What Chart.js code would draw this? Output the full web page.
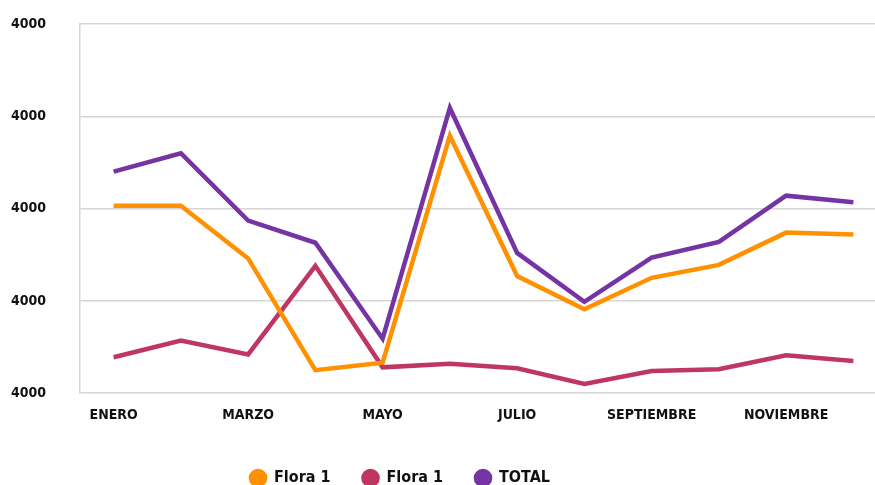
<!DOCTYPE html>
<html>
<head>
<meta charset="utf-8">
<script src="https://cdn.jsdelivr.net/npm/chart.js@4.4.0/dist/chart.umd.min.js"></script>
<style>
  html, body { margin: 0; padding: 0; background: #fff; overflow: hidden; }
  #wrap { width: 887px; height: 496px; }
</style>
</head>
<body>
<div id="wrap"><canvas id="lineChart" width="887" height="496"></canvas></div>
<script>
// Chart data
const months = ['ENERO', 'FEBRERO', 'MARZO', 'ABRIL', 'MAYO', 'JUNIO', 'JULIO', 'AGOSTO', 'SEPTIEMBRE', 'OCTUBRE', 'NOVIEMBRE', 'DICIEMBRE'];
const flora1 = [203, 203, 146, 25, 33, 279, 127, 91, 125, 139, 174, 172];
const flora2 = [39, 57, 42, 138, 28, 32, 27, 10, 24, 26, 41, 35];
const total = [240, 260, 187, 163, 59, 309, 152, 99, 147, 164, 214, 207];
const yTickLabel = '4000';

const FONT = "'Liberation Sans Narrow', 'DejaVu Sans Condensed', sans-serif";

// The legend in the original sits a bit left of centre
const legendShift = {
    id: 'legendShift',
    afterLayout(chart) {
        if (chart.legend) {
            chart.legend.left -= 49;
            chart.legend.right -= 49;
        }
    }
};

document.addEventListener('DOMContentLoaded', function() {
    const ctx = document.getElementById('lineChart');
    new Chart(ctx, {
        type: 'line',
        data: {
            labels: months,
            datasets: [
                { label: 'Flora 1', data: flora1, borderColor: '#ff9100', backgroundColor: '#ff9100' },
                { label: 'Flora 1', data: flora2, borderColor: '#bf3760', backgroundColor: '#bf3760' },
                { label: 'TOTAL', data: total, borderColor: '#7434a3', backgroundColor: '#7434a3' }
            ].map(ds => Object.assign(ds, {
                borderWidth: 4.5,
                pointRadius: 0,
                tension: 0,
                fill: false
            }))
        },
        options: {
            responsive: false,
            animation: false,
            layout: { padding: { top: 24, left: 11, right: 0, bottom: 0 } },
            plugins: {
                legend: {
                    position: 'bottom',
                    labels: {
                        usePointStyle: true,
                        pointStyle: 'circle',
                        boxWidth: 16,
                        boxHeight: 10,
                        padding: 32,
                        color: '#111',
                        font: { family: FONT, size: 16, weight: 'bold' }
                    }
                },
                tooltip: { enabled: false }
            },
            scales: {
                x: {
                    offset: true,
                    grid: { display: false, drawTicks: false },
                    border: { display: false },
                    ticks: {
                        autoSkip: false,
                        maxRotation: 0,
                        padding: 14,
                        color: '#111',
                        font: { family: FONT, size: 14, weight: 'bold' },
                        callback: function(value, index) {
                            return index % 2 === 0 ? this.getLabelForValue(value) : '';
                        }
                    }
                },
                y: {
                    min: 0,
                    max: 400,
                    afterFit: function(scale) { scale.width = 69; },
                    grid: { color: '#d6d6d6', lineWidth: 1.5, drawTicks: false },
                    border: { display: true, color: '#d6d6d6', width: 1.5 },
                    ticks: {
                        stepSize: 100,
                        padding: 2,
                        crossAlign: 'far',
                        color: '#111',
                        font: { family: FONT, size: 14, weight: 'bold' },
                        callback: function() { return yTickLabel; }
                    }
                }
            }
        },
        plugins: [legendShift]
    });
});
</script>
</body>
</html>
